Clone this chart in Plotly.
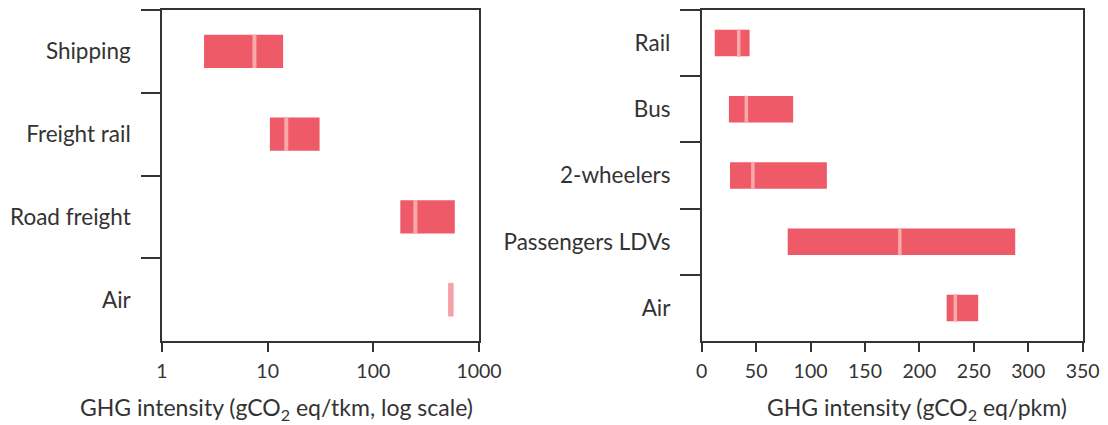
import plotly.graph_objects as go

# ---- data ----
freight_modes = ["Shipping", "Freight rail", "Road freight", "Air"]
freight_low = [2.5, 10.5, 180, 510]
freight_high = [14, 31, 590, 575]
freight_median = [7.5, 15, 250, 540]

passenger_modes = ["Rail", "Bus", "2-wheelers", "Passengers LDVs", "Air"]
passenger_low = [12, 25, 26, 79, 225]
passenger_high = [44, 84, 115, 288, 254]
passenger_median = [34, 41, 47, 182, 233]

freight_ticks = [1, 10, 100, 1000]
freight_ticktext = ["1", "10", "100", "1000"]
passenger_ticks = [0, 50, 100, 150, 200, 250, 300, 350]

# ---- styles ----
BAR = "#EF5A69"
MED = "#F9A9AA"
LIGHT = "#F4A2A9"
INK = "#333333"
FONT = "Lato"

freight_colors = [BAR, BAR, BAR, LIGHT]
freight_med_colors = [MED, MED, MED, LIGHT]

fig = go.Figure()

fig.add_trace(go.Bar(
    y=freight_modes,
    x=[h - l for l, h in zip(freight_low, freight_high)],
    base=freight_low,
    orientation="h",
    marker=dict(color=freight_colors, line=dict(width=0)),
    width=0.4,
    xaxis="x", yaxis="y",
    showlegend=False,
))
fig.add_trace(go.Scatter(
    y=freight_modes, x=freight_median,
    mode="markers",
    marker=dict(symbol="line-ns", size=24,
                line=dict(color=freight_med_colors, width=4)),
    xaxis="x", yaxis="y",
    showlegend=False,
))

fig.add_trace(go.Bar(
    y=passenger_modes,
    x=[h - l for l, h in zip(passenger_low, passenger_high)],
    base=passenger_low,
    orientation="h",
    marker=dict(color=BAR, line=dict(width=0)),
    width=0.4,
    xaxis="x2", yaxis="y2",
    showlegend=False,
))
fig.add_trace(go.Scatter(
    y=passenger_modes, x=passenger_median,
    mode="markers",
    marker=dict(symbol="line-ns", size=19.5,
                line=dict(color=MED, width=3.5)),
    xaxis="x2", yaxis="y2",
    showlegend=False,
))

axis_common = dict(
    showline=True, linecolor=INK, linewidth=1.5, mirror=True,
    showgrid=False, zeroline=False, automargin=False,
    ticks="outside", tickcolor=INK, tickwidth=1.5,
)
num_font = dict(family=FONT, size=19.5, color=INK)
cat_font = dict(family=FONT, size=22.5, color=INK)

fig.update_layout(
    width=1108, height=425,
    margin=dict(l=0, r=0, t=10, b=84, autoexpand=False),
    paper_bgcolor="white", plot_bgcolor="white",
    font=dict(family=FONT, color=INK),
    xaxis=dict(
        **axis_common, type="log", range=[0, 3],
        domain=[162 / 1108, 479 / 1108],
        tickvals=freight_ticks, ticktext=freight_ticktext,
        ticklen=9, ticklabelstandoff=3, tickfont=num_font, anchor="y",
    ),
    yaxis=dict(
        **axis_common, type="category",
        categoryorder="array", categoryarray=freight_modes,
        autorange="reversed", tickson="boundaries",
        ticklen=19, ticklabelstandoff=25, tickfont=cat_font, anchor="x",
    ),
    xaxis2=dict(
        **axis_common, range=[0, 350],
        domain=[701.7 / 1108, 1082.7 / 1108],
        tickvals=passenger_ticks,
        ticklen=9, ticklabelstandoff=3, tickfont=num_font, anchor="y2",
    ),
    yaxis2=dict(
        **axis_common, type="category",
        categoryorder="array", categoryarray=passenger_modes,
        autorange="reversed", tickson="boundaries",
        ticklen=20, ticklabelstandoff=25, tickfont=cat_font, anchor="x2",
    ),
    annotations=[
        dict(text="GHG intensity (gCO<sub>2</sub> eq/tkm, log scale)",
             xref="paper", yref="paper", x=276 / 1108, y=0,
             yshift=-67, showarrow=False, xanchor="center", yanchor="middle",
             font=dict(family=FONT, size=23, color=INK)),
        dict(text="GHG intensity (gCO<sub>2</sub> eq/pkm)",
             xref="paper", yref="paper", x=917 / 1108, y=0,
             yshift=-67, showarrow=False, xanchor="center", yanchor="middle",
             font=dict(family=FONT, size=23, color=INK)),
    ],
)

fig.write_html(
    "out.html",
    config={"responsive": False, "displayModeBar": False},
    post_script="document.body.style.margin='0';document.body.style.overflow='hidden';",
)
